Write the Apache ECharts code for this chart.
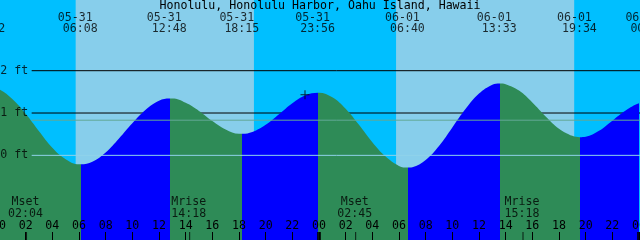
<!DOCTYPE html>
<html><head><meta charset="utf-8">
<script src="https://cdn.jsdelivr.net/npm/echarts@6/dist/echarts.min.js"></script>
<style>html,body{margin:0;padding:0;background:#00BFFF}#c{width:640px;height:240px}</style>
</head><body><div id="c"></div>
<script>
const chartTitle = 'Honolulu, Honolulu Harbor, Oahu Island, Hawaii';
// Hours counted from 05-31 00:00
const tideHours = [-0.8, 0, 1, 2, 3, 4, 5, 6, 6.13, 7, 8, 9, 10, 11, 12, 12.8, 13, 14, 15, 16, 17, 18, 18.25,
  19, 20, 21, 22, 23, 23.93, 24, 25, 26, 27, 28, 29, 30, 30.67, 31, 32, 33, 34, 35, 36, 37, 37.55,
  38, 39, 40, 41, 42, 43, 43.57, 44, 45, 46, 47, 48, 48.7];
const tideFeet = [1.62, 1.56, 1.33, 0.98, 0.57, 0.18, -0.09, -0.21, -0.21, -0.15, 0.07, 0.40, 0.76, 1.08, 1.29, 1.34, 1.34, 1.24, 1.05, 0.81, 0.61, 0.51, 0.51,
  0.55, 0.72, 0.97, 1.23, 1.42, 1.48, 1.48, 1.37, 1.10, 0.72, 0.31, -0.03, -0.25, -0.29, -0.28, -0.11, 0.22, 0.66, 1.10, 1.46, 1.67, 1.70,
  1.68, 1.53, 1.25, 0.92, 0.63, 0.46, 0.43, 0.44, 0.58, 0.82, 1.06, 1.23, 1.27];

const eventDates  = ['05-30', '05-31', '05-31', '05-31', '05-31', '06-01', '06-01', '06-01', '06-02'];
const eventClocks = ['23:12', '06:08', '12:48', '18:15', '23:56', '06:40', '13:33', '19:34', '00:42'];
const eventKinds  = ['high', 'low', 'high', 'low', 'high', 'low', 'high', 'low', 'high'];

const sunriseHours = [5.75, 29.78];
const sunsetHours = [19.12, 43.14];

const moonNames  = ['Mset', 'Mrise', 'Mset', 'Mrise'];
const moonDates  = ['05-31', '05-31', '06-01', '06-01'];
const moonClocks = ['02:04', '14:18', '02:45', '15:18'];

const dayBreakHours = [24, 48];
const levelFeet = [2, 1];
const datumFeet = 0;
const mslFeet = 0.83;
const nowHour = 22.95, nowFeet = 1.43;
const levelLineStart = 2.45, levelLineEnd = 48.7;

const dayIndex = { '05-30': -1, '05-31': 0, '06-01': 1, '06-02': 2 };
function toHours(d, c) { const [h, m] = c.split(':').map(Number); return dayIndex[d] * 24 + h + m / 60; }
const eventHours = eventDates.map((d, i) => toHours(d, eventClocks[i]));
const moonHours = moonDates.map((d, i) => toHours(d, moonClocks[i]));

const FONT = 'DejaVu Sans Mono', FS = 11.6;
const GREEN = '#2E8B57', BLUE = '#0000FF', DAY = '#87CEEB', NIGHT = '#00BFFF';
const YMIN = -2, YMAX = 3.67;

const pieces = [{ lt: eventHours[0], color: eventKinds[0] === 'high' ? BLUE : GREEN }];
eventHours.forEach((h, i) => {
  const p = { gte: h, color: eventKinds[i] === 'high' ? GREEN : BLUE };
  if (i + 1 < eventHours.length) p.lt = eventHours[i + 1];
  pieces.push(p);
});

const txt = { fontFamily: FONT, fontSize: FS, color: '#000' };
const hidden = { color: 'transparent' };

const option = {
  animation: false,
  backgroundColor: NIGHT,
  title: { text: chartTitle, left: 'center', top: 0, padding: 0,
    textStyle: { fontFamily: FONT, fontSize: FS, fontWeight: 'normal', color: '#000', lineHeight: 12 } },
  grid: { left: -1, right: 1, top: 0, bottom: 0, containLabel: false, outerBoundsMode: 'none' },
  xAxis: { type: 'value', min: 0, max: 48, interval: 2, z: 10,
    axisLine: { show: false, onZero: false }, splitLine: { show: false },
    axisTick: { show: true, inside: true, length: 8, lineStyle: { color: '#000', width: 1 } },
    axisLabel: { show: true, inside: true, margin: 8, showMinLabel: true, showMaxLabel: true,
      fontFamily: FONT, fontSize: FS, color: '#000',
      formatter: v => String(v % 24).padStart(2, '0') } },
  yAxis: { type: 'value', min: YMIN, max: YMAX, show: false },
  visualMap: { show: false, type: 'piecewise', dimension: 0, seriesIndex: 2, pieces },
  series: [
    { type: 'line', z: 1, clip: false, symbol: 'none', silent: true,
      data: [[levelLineStart, levelFeet[0]], [levelLineEnd, levelFeet[0]]],
      lineStyle: { color: '#000', width: 1 },
      markArea: { z: 0, silent: true,
        data: sunriseHours.map((s, i) => [{ xAxis: s, itemStyle: { color: DAY, opacity: 1 } }, { xAxis: sunsetHours[i] }]) } },
    { type: 'line', z: 1, clip: false, symbol: 'none', silent: true,
      data: [[levelLineStart, levelFeet[1]], [levelLineEnd, levelFeet[1]]],
      lineStyle: { color: '#000', width: 1 } },
    { type: 'line', z: 2, clip: false, symbol: 'none', smooth: 0.4, silent: true,
      data: tideHours.map((h, i) => [h, tideFeet[i]]),
      lineStyle: { width: 0 }, areaStyle: { opacity: 1, origin: 'start' } },
    { type: 'line', z: 3, clip: false, symbol: 'none', silent: true,
      data: [[levelLineStart, datumFeet], [levelLineEnd, datumFeet]],
      lineStyle: { color: '#8fd3ea', width: 1 } },
    { type: 'line', z: 3, clip: false, symbol: 'none', silent: true,
      data: [[levelLineStart, mslFeet], [levelLineEnd, mslFeet]],
      lineStyle: { color: '#62a896', width: 1 } },
    { type: 'scatter', z: 4, clip: false, symbolSize: 1, itemStyle: hidden, silent: true,
      data: [...levelFeet, datumFeet].map(v => [levelLineStart, v]),
      label: { show: true, position: 'left', distance: 3, ...txt, formatter: p => p.value[1] + ' ft' } },
    { type: 'scatter', z: 4, clip: false, symbolSize: 1, itemStyle: hidden, silent: true,
      data: eventHours.map((h, i) => ({ value: [h, YMAX], name: eventDates[i] })),
      label: { show: true, position: 'inside', offset: [-5.5, 17.5], ...txt, formatter: p => p.name } },
    { type: 'scatter', z: 4, clip: false, symbolSize: 1, itemStyle: hidden, silent: true,
      data: eventHours.map((h, i) => ({ value: [h, YMAX], name: eventClocks[i] })),
      label: { show: true, position: 'inside', offset: [-0.5, 29], ...txt, formatter: p => p.name } },
    { type: 'scatter', z: 4, clip: false, symbol: 'rect', symbolSize: [1, 8], symbolOffset: [0, -4], silent: true,
      itemStyle: { color: '#000' },
      data: moonHours.map((h, i) => ({ value: [h, YMIN], name: moonNames[i] + '\n' + moonClocks[i] })),
      label: { show: true, position: 'top', distance: 12, lineHeight: 12, offset: [-1, 0], ...txt, formatter: p => p.name } },
    { type: 'scatter', z: 4, clip: false, symbol: 'rect', symbolSize: [4, 8], symbolOffset: [0, -4], silent: true,
      itemStyle: { color: '#000' },
      data: dayBreakHours.map(h => [h, YMIN]) },
    { type: 'scatter', z: 5, clip: false, symbol: 'path://M0,4H9V5H0Z M4,0H5V9H4Z', symbolSize: 9, silent: true,
      itemStyle: { color: '#000' }, data: [[nowHour, nowFeet]] }
  ]
};
const chart = echarts.init(document.getElementById('c'), null, { renderer: 'canvas' });
chart.setOption(option);
</script></body></html>
